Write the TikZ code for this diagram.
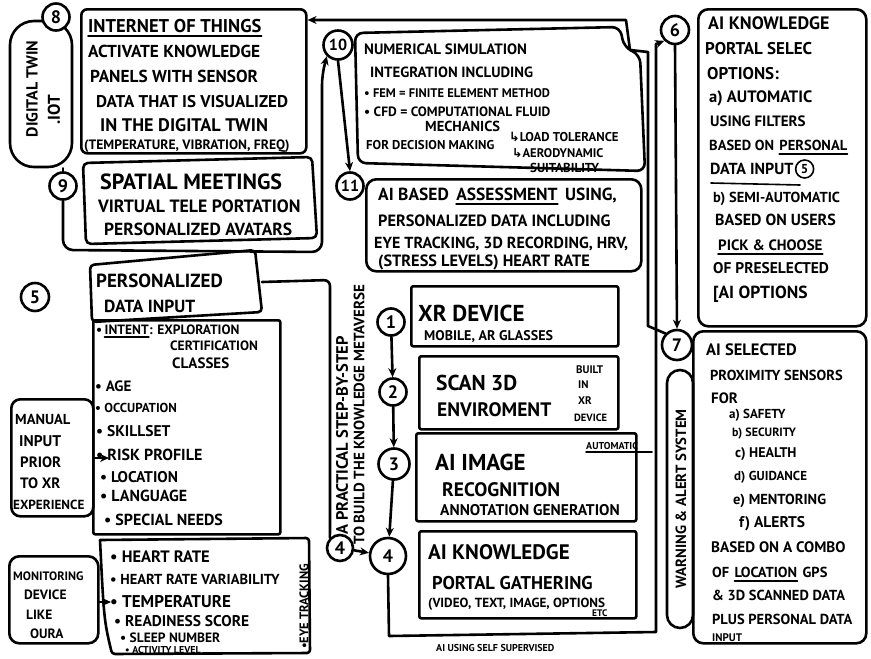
\documentclass[tikz,border=0pt]{standalone}
\usepackage{fontspec}
\setmainfont{PT Sans}
\newfontfamily\symf{DejaVu Sans}
\usetikzlibrary{arrows.meta,calc}
\newcommand{\tsz}[1]{\fontsize{#1}{#1}\selectfont\bfseries}
\begin{document}
\begin{tikzpicture}[x=1pt,y=-1pt,
  ink/.style={line width=2.6pt, line join=round, line cap=round},
  thin/.style={line width=1.6pt, line cap=round},
  box/.style={ink, draw, rounded corners=6pt, inner sep=0pt},
  sqbox/.style={ink, draw, rounded corners=2pt, inner sep=0pt},
  num/.style={ink, draw, circle, inner sep=0pt, minimum size=27pt, font=\tsz{18}},
  txt/.style={anchor=base west, inner sep=0pt, font=\tsz{15}},
  vtxt/.style={anchor=west, inner sep=0pt, rotate=90},
  flow/.style={ink, -{Stealth[length=9pt,width=8pt]}},
]
\useasboundingbox (0,0) rectangle (871,659);
\fill[white] (0,0) rectangle (871,659);

% ---------- digital twin / IoT ----------
\node[box, rounded corners=24pt, minimum width=62pt, minimum height=146pt] (twin) at (41,94) {};
\node[vtxt, anchor=center, font=\tsz{16}] (twinA) at (32,89) {DIGITAL TWIN};
\node[vtxt, anchor=center, font=\tsz{17}] (twinB) at (54,110) {.IOT};
\node[num, fill=white] (c8) at (56,17) {8};
\node[num] (c9) at (63,186) {9};
\draw[ink] (c9.north) -- (c9.north |- twin.south);

\node[box, minimum width=225pt, minimum height=144pt, anchor=north west] (iot) at (80,8) {};
\node[txt, font=\tsz{18.5}] (i1) at (88,32) {INTERNET OF THINGS};
\draw[thin] ([yshift=-4pt]i1.base west) -- ([yshift=-4pt]i1.base east);
\node[txt, font=\tsz{17.3}] (i2) at (88,57) {ACTIVATE KNOWLEDGE};
\node[txt, font=\tsz{17.3}] (i3) at (90,82) {PANELS WITH SENSOR};
\node[txt, font=\tsz{17}] (i4) at (96,107) {DATA THAT IS VISUALIZED};
\node[txt, font=\tsz{18.2}] (i5) at (100,131) {IN THE DIGITAL TWIN};
\node[txt, font=\tsz{13.6}] (i6) at (84,149) {(TEMPERATURE, VIBRATION, FREQ)};

\draw[ink, rounded corners=5pt] (83,163) -- (312,157) -- (317,238) -- (86,244) -- cycle;
\node[txt, font=\tsz{22}] (s1) at (100,189) {SPATIAL MEETINGS};
\node[txt, font=\tsz{17.8}] (s2) at (98,212) {VIRTUAL TELE PORTATION};
\node[txt, font=\tsz{17.5}] (s3) at (104,235) {PERSONALIZED AVATARS};

% ---------- numerical simulation ----------
\node[num, minimum size=29pt, font=\tsz{16}] (c10) at (338,45) {10};
\draw[ink, rounded corners=8pt] (355,33) -- (620,27) -- (624,47) -- (640,55) -- (645,171) -- (358,163) -- cycle;
\node[txt, font=\tsz{15}] (n1) at (364,54) {NUMERICAL SIMULATION};
\node[txt, font=\tsz{14.8}] (n2) at (370,77) {INTEGRATION INCLUDING};
\node[txt, font=\tsz{12.5}] (n3) at (364,97) {• FEM = FINITE ELEMENT METHOD};
\node[txt, font=\tsz{13.5}] (n4) at (364,116) {• CFD = COMPUTATIONAL FLUID};
\node[txt, font=\tsz{14.5}] (n5) at (425,131) {MECHANICS};
\node[txt, font=\tsz{12.8}] (n6) at (366,149) {FOR DECISION MAKING};
\node[txt, font=\tsz{12.8}] (n7) at (509,141) {{\symf ↳}LOAD TOLERANCE};
\node[txt, font=\tsz{12.5}] (n8) at (512,157) {{\symf ↳}AERODYNAMIC};
\node[txt, font=\tsz{13}] (n9) at (530,172) {SUITABILITY};

% ---------- AI based assessment ----------
\node[num, font=\tsz{16}] (c11) at (350,186) {11};
\draw[flow] (c10.south) -- (c11.north);
\node[box, rounded corners=10pt, minimum width=275pt, minimum height=92pt, anchor=north west] (ab) at (365,178) {};
\node[txt, font=\tsz{17.5}] (a1) at (378,200) {AI BASED};
\node[txt, font=\tsz{17.5}] (a2) at ([xshift=7pt]a1.base east) {ASSESSMENT};
\node[txt, font=\tsz{17.5}] (a3) at ([xshift=7pt]a2.base east) {USING,};
\draw[thin] ([yshift=-4pt]a2.base west) -- ([yshift=-4pt]a2.base east);
\node[txt, font=\tsz{16.3}] (a4) at (378,226) {PERSONALIZED DATA INCLUDING};
\node[txt, font=\tsz{16}] (a5) at (374,248) {EYE TRACKING, 3D RECORDING, HRV,};
\node[txt, font=\tsz{16.3}] (a6) at (378,266) {(STRESS LEVELS) HEART RATE};

% ---------- 9 -> 10 ----------
\draw[flow, rounded corners=10pt] (c9.south) -- (63,250) -- (322,252) -- (322,75) -- (c10.south west);

% ---------- step boxes 1..4 ----------
\node[num] (c1) at (391,322) {1};
\node[num] (c2) at (393,392) {2};
\node[num, minimum size=31pt] (c3) at (394,464) {3};
\node[num, minimum size=36pt] (c4) at (388,556) {4};
\node[num, minimum size=26pt] (c4s) at (340,548) {4};
\draw[flow] (c1) -- (c2);
\draw[flow] (c2) -- (c3);
\draw[flow] (c3) -- (c4);
\draw[flow] (c4s) -- (c4);

\node[sqbox, minimum width=207pt, minimum height=60pt, anchor=north west] (xr) at (410,285) {};
\node[txt, font=\tsz{23}] (x1) at (418,321) {XR DEVICE};
\node[txt, font=\tsz{14}] (x2) at (424,340) {MOBILE, AR GLASSES};

\node[sqbox, minimum width=199pt, minimum height=73pt, anchor=north west] (scan) at (418,355) {};
\node[txt, font=\tsz{21.5}] (sc1) at (436,390) {SCAN 3D};
\node[txt, font=\tsz{19.5}] (sc2) at (437,416) {ENVIROMENT};
\node[txt, font=\tsz{11}] (sc3) at (576,373) {BUILT};
\node[txt, font=\tsz{11}] (sc4) at (578,388) {IN};
\node[txt, font=\tsz{11}] (sc5) at (578,404) {XR};
\node[txt, font=\tsz{10.5}] (sc6) at (574,421) {DEVICE};

\node[sqbox, minimum width=220pt, minimum height=88pt, anchor=north west] (img) at (415,432) {};
\node[txt, font=\tsz{23}] (g1) at (435,470) {AI IMAGE};
\node[txt, font=\tsz{19.5}] (g2) at (442,496) {RECOGNITION};
\node[txt, font=\tsz{15.5}] (g3) at (440,515) {ANNOTATION GENERATION};
\node[txt, font=\tsz{10}] (g4) at (586,449) {AUTOMATIC};
\draw[thin] ([yshift=-3pt]g4.base west) -- (652,452);

\node[sqbox, minimum width=217pt, minimum height=87pt, anchor=north west] (kg) at (418,530) {};
\node[txt, font=\tsz{21}] (k1) at (428,559) {AI KNOWLEDGE};
\node[txt, font=\tsz{18.5}] (k2) at (432,589) {PORTAL GATHERING};
\node[txt, font=\tsz{13.2}] (k3) at (428,607) {(VIDEO, TEXT, IMAGE, OPTIONS};
\node[txt, font=\tsz{9.5}] (k4) at (592,616) {ETC};
\node[txt, font=\tsz{10}] (k5) at (436,651) {AI USING SELF SUPERVISED};

% ---------- right column ----------
\node[num, minimum size=28pt] (c6) at (675,30) {6};
\node[num, minimum size=30pt] (c7) at (677,345) {7};
\draw[flow] (c6.south) -- (c7.north);
\draw[flow] (c4.south) -- (389,636) -- (656,632) -- (656,44) -- (c6.south west);
\coordinate (iotR) at ($(iot.north east)+(0,12)$);
\draw[flow] (c7.north west) -- (648,326) -- (648,52) -- (630,50) -- (626,20) -- (iotR);

\node[box, rounded corners=10pt, minimum width=168pt, minimum height=317pt, anchor=north west] (ko) at (697,8) {};
\node[txt, font=\tsz{18}] (o1) at (708,29) {AI KNOWLEDGE};
\node[txt, font=\tsz{17}] (o2) at (705,54) {PORTAL SELEC};
\node[txt, font=\tsz{17}] (o3) at (707,79) {OPTIONS:};
\node[txt, font=\tsz{16.5}] (o4) at (709,102) {a) AUTOMATIC};
\node[txt, font=\tsz{15}] (o5) at (710,126) {USING FILTERS};
\node[txt, font=\tsz{14.5}] (o6) at (709,150) {BASED ON};
\node[txt, font=\tsz{14.5}] (o7) at ([xshift=5pt]o6.base east) {PERSONAL};
\draw[thin] ([yshift=-4pt]o7.base west) -- ([yshift=-4pt]o7.base east);
\node[txt, font=\tsz{16}] (o8) at (710,174) {DATA INPUT};
\node[num, minimum size=18pt, line width=1.6pt, font=\tsz{13}] (c5b) at ([xshift=11pt,yshift=5pt]o8.base east) {5};
\draw[thin] (711,183) -- (800,185);
\node[txt, font=\tsz{14.5}] (o9) at (713,202) {b) SEMI-AUTOMATIC};
\node[txt, font=\tsz{16}] (o10) at (715,225) {BASED ON USERS};
\node[txt, font=\tsz{15}] (o11) at (718,250) {PICK \& CHOOSE};
\draw[thin] ([yshift=-4pt]o11.base west) -- ([yshift=-4pt]o11.base east);
\node[txt, font=\tsz{15.5}] (o12) at (713,273) {OF PRESELECTED};
\node[txt, font=\tsz{17.5}] (o13) at (713,298) {[AI OPTIONS};

\node[box, rounded corners=10pt, minimum width=173pt, minimum height=312pt, anchor=north west] (px) at (692,330) {};
\node[box, rounded corners=13pt, minimum width=26pt, minimum height=258pt] (warn) at (680,499) {};
\node[vtxt, anchor=center, font=\tsz{14.8}] (warnT) at (681,499) {WARNING \& ALERT SYSTEM};
\node[txt, font=\tsz{16.5}] (p1) at (706,355) {AI SELECTED};
\node[txt, font=\tsz{14.5}] (p2) at (710,380) {PROXIMITY SENSORS};
\node[txt, font=\tsz{15}] (p3) at (711,403) {FOR};
\node[txt, font=\tsz{13}] (p4) at (729,418) {a) SAFETY};
\node[txt, font=\tsz{12}] (p5) at (732,436) {b) SECURITY};
\node[txt, font=\tsz{14}] (p6) at (735,457) {c) HEALTH};
\node[txt, font=\tsz{13}] (p7) at (734,480) {d) GUIDANCE};
\node[txt, font=\tsz{14.5}] (p8) at (733,504) {e) MENTORING};
\node[txt, font=\tsz{15.5}] (p9) at (739,527) {f) ALERTS};
\node[txt, font=\tsz{15.2}] (p10) at (711,552) {BASED ON A COMBO};
\node[txt, font=\tsz{14.5}] (p11) at (712,577) {OF};
\node[txt, font=\tsz{14.5}] (p12) at ([xshift=5pt]p11.base east) {LOCATION};
\node[txt, font=\tsz{14.5}] (p13) at ([xshift=5pt]p12.base east) {GPS};
\draw[thin] ([yshift=-4pt]p12.base west) -- ([yshift=-4pt]p12.base east);
\node[txt, font=\tsz{14.5}] (p14) at (712,600) {\& 3D SCANNED DATA};
\node[txt, font=\tsz{14.5}] (p15) at (712,624) {PLUS PERSONAL DATA};
\node[txt, font=\tsz{11}] (p16) at (712,641) {INPUT};

% ---------- personalized data input ----------
\node[num, minimum size=28pt] (c5) at (35,297) {5};
\draw[ink, rounded corners=4pt] (90,265) -- (255,250) -- (262,312) -- (92,322) -- cycle;
\coordinate (persE) at (262,282);
\node[txt, font=\tsz{19}] (d1) at (96,287) {PERSONALIZED};
\node[txt, font=\tsz{17.5}] (d2) at (104,312) {DATA INPUT};
\draw[ink, rounded corners=6pt] (persE) -- (330,280) -- (330,532) -- (c4s.north west);
\node[vtxt, font=\tsz{16.5}] (v1) at (342,535) {A PRACTICAL STEP-BY-STEP};
\node[vtxt, font=\tsz{15}] (v2) at (359,545) {TO BUILD THE KNOWLEDGE METAVERSE};

\node[sqbox, minimum width=187pt, minimum height=214pt, anchor=north west] (l1) at (92,319) {};
\node[txt, font=\tsz{13.5}] (l1a) at (96,334) {•};
\node[txt, font=\tsz{13.5}] (l1b) at ([xshift=2pt]l1a.base east) {INTENT};
\draw[thin] ([yshift=-3pt]l1b.base west) -- ([yshift=-3pt]l1b.base east);
\node[txt, font=\tsz{13.5}] (l1c) at (l1b.base east) {: EXPLORATION};
\node[txt, font=\tsz{13.5}] (l1d) at (170,350) {CERTIFICATION};
\node[txt, font=\tsz{15}] (l1e) at (172,368) {CLASSES};
\node[txt, font=\tsz{15}] (l1f) at (95,391) {• AGE};
\node[txt, font=\tsz{13}] (l1g) at (95,412) {• OCCUPATION};
\node[txt, font=\tsz{15.5}] (l1h) at (96,436) {• SKILLSET};
\node[txt, font=\tsz{16}] (l1i) at (96,460) {• RISK PROFILE};
\node[txt, font=\tsz{15.5}] (l1j) at (100,482) {• LOCATION};
\node[txt, font=\tsz{16}] (l1k) at (100,501) {• LANGUAGE};
\node[txt, font=\tsz{16}] (l1l) at (104,525) {• SPECIAL NEEDS};

\node[box, rounded corners=9pt, minimum width=82pt, minimum height=117pt, anchor=north west] (man) at (10,398) {};
\node[txt, font=\tsz{14.5}] (m1) at (15,424) {MANUAL};
\node[txt, font=\tsz{15.5}] (m2) at (19,446) {INPUT};
\node[txt, font=\tsz{15}] (m3) at (20,467) {PRIOR};
\node[txt, font=\tsz{15}] (m4) at (20,488) {TO XR};
\node[txt, font=\tsz{13.2}] (m5) at (13,509) {EXPERIENCE};
\coordinate (manT) at (109,458);
\draw[flow] (man.east |- manT) -- (manT);

\draw[ink, rounded corners=3pt] (100,540) -- (309,538) -- (310,653) -- (112,654) .. controls (104,620) .. (100,540);
\node[txt, font=\tsz{16.5}] (h1) at (110,562) {• HEART RATE};
\node[txt, font=\tsz{14.5}] (h2) at (110,584) {• HEART RATE VARIABILITY};
\node[txt, font=\tsz{17}] (h3) at (110,607) {• TEMPERATURE};
\node[txt, font=\tsz{15.5}] (h4) at (114,626) {• READINESS SCORE};
\node[txt, font=\tsz{13.5}] (h5) at (120,642) {• SLEEP NUMBER};
\node[txt, font=\tsz{10}] (h6) at (125,653) {• ACTIVITY LEVEL};
\node[vtxt, font=\tsz{12.5}] (h7) at (304,649) {•EYE TRACKING};

\node[box, rounded corners=10pt, minimum width=89pt, minimum height=87pt, anchor=north west] (mon) at (8,555) {};
\node[txt, font=\tsz{12.2}] (mo1) at (13,580) {MONITORING};
\node[txt, font=\tsz{13.5}] (mo2) at (24,599) {DEVICE};
\node[txt, font=\tsz{13.5}] (mo3) at (26,619) {LIKE};
\node[txt, font=\tsz{13.5}] (mo4) at (30,638) {OURA};
\coordinate (monT) at (111,602);
\draw[flow] (mon.east |- monT) -- (monT);

\end{tikzpicture}
\end{document}
